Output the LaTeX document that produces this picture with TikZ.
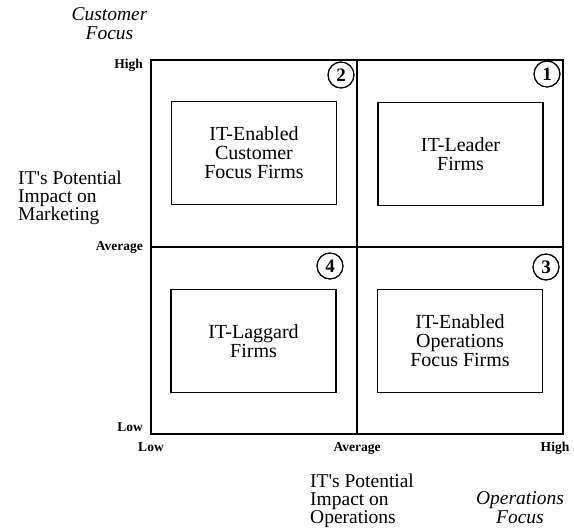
\documentclass[tikz,border=0pt]{standalone}
\usepackage{fontspec}
\setmainfont{Liberation Serif}
\begin{document}
\begin{tikzpicture}[x=1pt,y=-1pt,
  frame/.style={line width=1.4pt},
  quadbox/.style={draw,line width=1.4pt,minimum width=165pt,minimum height=103pt,inner sep=0pt,align=center,font=\fontsize{20}{19}\selectfont},
  numcirc/.style={draw,circle,line width=1.3pt,minimum size=26pt,inner sep=0pt,font=\fontsize{19}{19}\selectfont\bfseries},
  ticklab/.style={font=\fontsize{13.5}{13.5}\selectfont\bfseries,inner sep=0pt},
  biglab/.style={align=left,font=\fontsize{19.5}{19}\selectfont,inner sep=0pt},
  itlab/.style={align=center,font=\fontsize{19.5}{19}\selectfont\itshape,inner sep=0pt}]
\useasboundingbox (0,0) rectangle (574,529);
% frame
\coordinate (tl) at (151,60);
\coordinate (br) at (563,434);
\coordinate (mt) at (357,60);
\coordinate (mb) at (357,434);
\coordinate (ml) at (151,247);
\coordinate (mr) at (563,247);
\draw[frame] (tl) rectangle (br);
\draw[frame] (mt) -- (mb);
\draw[frame] (ml) -- (mr);
% quadrant boxes
\node[quadbox] (q2) at (254,153) {IT-Enabled\\Customer\\Focus Firms};
\node[quadbox] (q1) at (460.5,154) {IT-Leader\\Firms};
\node[quadbox] (q4) at (253.5,341) {IT-Laggard\\Firms};
\node[quadbox] (q3) at (460,341) {IT-Enabled\\Operations\\Focus Firms};
% numbers
\node[numcirc] (c1) at (547,74) {1};
\node[numcirc] (c2) at (341,75) {2};
\node[numcirc] (c3) at (546,267) {3};
\node[numcirc] (c4) at (330,266) {4};
% tick labels
\node[ticklab,anchor=base east] (yh) at (143,69) {High};
\node[ticklab,anchor=base east] (ya) at (143,251) {Average};
\node[ticklab,anchor=base east] (yl) at (143,432) {Low};
\node[ticklab,anchor=base] (xl) at (151,452) {Low};
\node[ticklab,anchor=base] (xa) at (357,452) {Average};
\node[ticklab,anchor=base] (xh) at (555,452) {High};
% axis titles
\node[itlab,anchor=base] (cf) at (109.5,21) {Customer};
\node[itlab,anchor=base] (cf2) at (109.5,40) {Focus};
\node[biglab,anchor=base west] (m1) at (18,185) {IT\textquotesingle s Potential};
\node[biglab,anchor=base west] (m2) at (18,203) {Impact on};
\node[biglab,anchor=base west] (m3) at (18,221) {Marketing};
\node[biglab,anchor=base west] (o1) at (310,488) {IT\textquotesingle s Potential};
\node[biglab,anchor=base west] (o2) at (310,506) {Impact on};
\node[biglab,anchor=base west] (o3) at (310,524) {Operations};
\node[itlab,anchor=base] (of) at (520,505) {Operations};
\node[itlab,anchor=base] (of2) at (520,524) {Focus};
\end{tikzpicture}
\end{document}
